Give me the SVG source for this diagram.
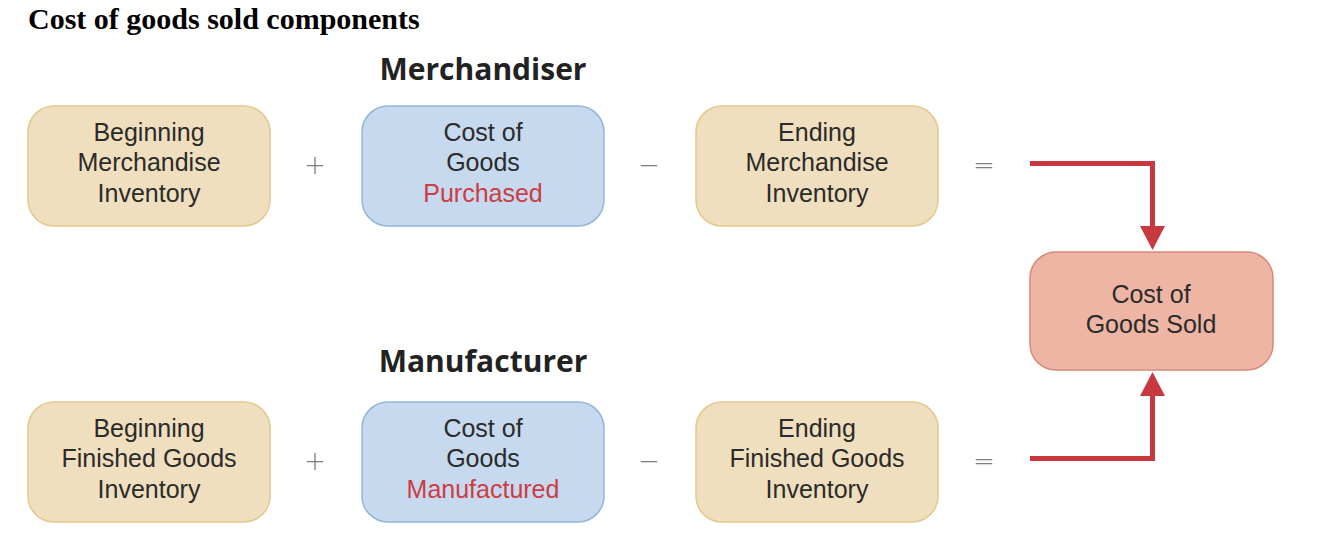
<svg xmlns="http://www.w3.org/2000/svg" width="1334" height="546" viewBox="0 0 1334 546">
<style>
.tan{fill:#f0dfbe;stroke:#e2c98c;stroke-width:1.5}
.blue{fill:#c6d9ee;stroke:#92b5dc;stroke-width:1.5}
.pink{fill:#eeb5a4;stroke:#d98a7c;stroke-width:1.5}
.t{font-family:"Liberation Sans",Arial,sans-serif;font-size:25px;fill:#2b2b2b;text-anchor:middle}
.red{fill:#cc3d45}
.op{font-family:"DejaVu Sans",sans-serif;font-weight:200;font-size:26px;fill:#808080;text-anchor:middle}
.h{font-family:"Open Sans","Liberation Sans",sans-serif;font-size:30px;font-weight:bold;fill:#222;text-anchor:middle}
.conn{fill:none;stroke:#c8383f;stroke-width:5}
</style>
<text x="28" y="29" font-family="Liberation Serif,serif" font-size="30" font-weight="bold" fill="#000">Cost of goods sold components</text>
<text class="h" x="483" y="80">Merchandiser</text>
<text class="h" x="483" y="372">Manufacturer</text>
<g id="beg-merch"><rect class="tan" x="28" y="106" width="242" height="120" rx="26"/><text class="t" x="149" y="141">Beginning</text><text class="t" x="149" y="171">Merchandise</text><text class="t" x="149" y="202">Inventory</text></g>
<g id="cost-purch"><rect class="blue" x="362" y="106" width="242" height="120" rx="26"/><text class="t" x="483" y="141">Cost of</text><text class="t" x="483" y="171">Goods</text><text class="t red" x="483" y="202">Purchased</text></g>
<g id="end-merch"><rect class="tan" x="696" y="106" width="242" height="120" rx="26"/><text class="t" x="817" y="141">Ending</text><text class="t" x="817" y="171">Merchandise</text><text class="t" x="817" y="202">Inventory</text></g>
<g id="beg-fg"><rect class="tan" x="28" y="402" width="242" height="120" rx="26"/><text class="t" x="149" y="437">Beginning</text><text class="t" x="149" y="467">Finished Goods</text><text class="t" x="149" y="498">Inventory</text></g>
<g id="cost-manu"><rect class="blue" x="362" y="402" width="242" height="120" rx="26"/><text class="t" x="483" y="437">Cost of</text><text class="t" x="483" y="467">Goods</text><text class="t red" x="483" y="498">Manufactured</text></g>
<g id="end-fg"><rect class="tan" x="696" y="402" width="242" height="120" rx="26"/><text class="t" x="817" y="437">Ending</text><text class="t" x="817" y="467">Finished Goods</text><text class="t" x="817" y="498">Inventory</text></g>
<g id="cogs"><rect class="pink" x="1030" y="252" width="243" height="118" rx="26"/><text class="t" x="1151" y="303">Cost of</text><text class="t" x="1151" y="333">Goods Sold</text></g>
<g id="ops">
<text class="op" x="315" y="174">+</text><text class="op" x="649" y="174">−</text><text class="op" x="984" y="174">=</text>
<text class="op" x="315" y="470">+</text><text class="op" x="649" y="470">−</text><text class="op" x="984" y="470">=</text>
</g>
<g id="connectors">
<path class="conn" d="M1030 163.5H1152.5V230"/>
<polygon fill="#c8383f" points="1140,226 1165,226 1152.5,250"/>
<path class="conn" d="M1030 458.5H1152.5V393"/>
<polygon fill="#c8383f" points="1140,396 1165,396 1152.5,372"/>
</g>
</svg>
